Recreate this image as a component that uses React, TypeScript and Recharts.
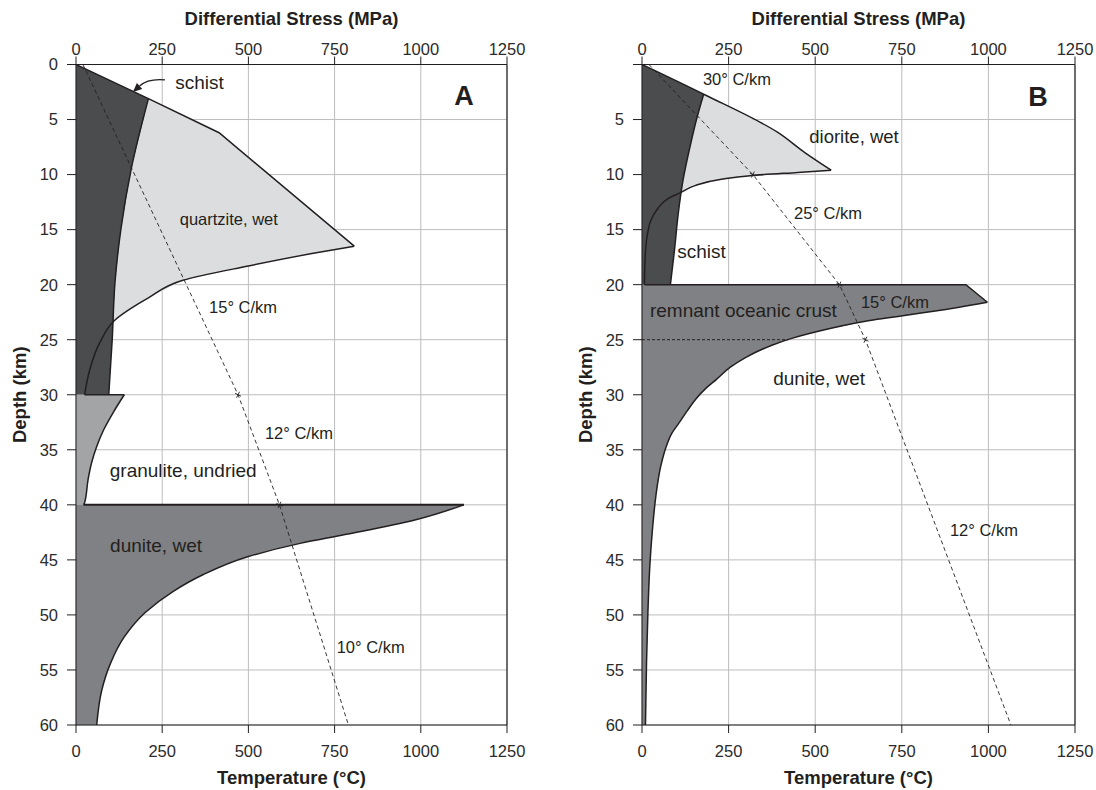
import React from 'react';
import {
  Area,
  CartesianGrid,
  ComposedChart,
  Line,
  ReferenceDot,
  ReferenceLine,
  XAxis,
  YAxis,
} from 'recharts';

// every point is [stress (MPa) or temperature (°C), depth (km)]
type XY = [number, number];
type CurveKind = 'linear' | 'monotone';

const stressTicks = [0, 250, 500, 750, 1000, 1250];
const depthTicks = [0, 5, 10, 15, 20, 25, 30, 35, 40, 45, 50, 55, 60];

// ---- panel A: continental crust over mantle ----
const brittleA: XY[] = [[0, 0], [210, 3.1], [415, 6.2], [807, 16.5]];
const quartziteBaseA: XY[] = [
  [807, 16.5], [680, 17.2], [500, 18.3], [310, 19.6], [210, 21.2],
  [110, 23.3], [70, 25.2], [40, 27.7], [25, 30],
];
const schistEdgeA: XY[] = [[210, 3.1], [160, 9.5], [130, 15], [113, 19.8], [105, 25], [95, 30]];
const granuliteEdgeA: XY[] = [
  [140, 30], [110, 31.5], [80, 33.2], [60, 34.7], [45, 36.2], [35, 37.7], [25, 39.8], [22, 40],
];
const duniteEdgeA: XY[] = [
  [1125, 40], [980, 41.4], [780, 42.7], [650, 43.5], [500, 44.7], [365, 46.4],
  [280, 47.9], [200, 49.8], [140, 52], [100, 54.4], [75, 56.8], [60, 60],
];
const geothermA: XY[] = [[20, 0], [470, 30], [590, 40], [790, 60]];
const gradientBreaksA = [30, 40];

// ---- panel B: thin crust over remnant oceanic crust ----
const brittleB: XY[] = [[0, 0], [178, 2.7], [391, 6.15], [470, 8], [546, 9.6]];
const dioriteBaseB: XY[] = [
  [546, 9.6], [450, 9.8], [312, 10.1], [233, 10.4], [153, 11], [114, 11.6],
  [74, 12.2], [45, 13.1], [25, 14.2], [17, 15.2], [10, 17], [7, 20],
];
const schistEdgeB: XY[] = [[178, 2.7], [158, 4.9], [139, 7.4], [119, 10.4], [104, 13.7], [94, 16.8], [82, 20]];
const mantleEdgeB: XY[] = [
  [935, 20], [997, 21.6], [847, 22.4], [649, 23.3], [500, 24.3], [430, 24.9],
  [375, 25.5], [300, 26.6], [255, 27.5], [215, 28.6], [185, 29.4], [155, 30.4],
  [132, 31.4], [106, 32.6], [86, 33.5], [70, 34.7], [54, 36.5], [40, 39.2],
  [30, 42.3], [23, 45.3], [17, 49.8], [13, 54.4], [10, 60],
];
const crustBaseB: XY[] = [[0, 25], [422, 25]];
const geothermB: XY[] = [[20, 0], [320, 10], [570, 20], [645, 25], [1065, 60]];
const gradientBreaksB = [10, 20, 25];

const INK = '#231f20';
const DARK = '#4b4c4e';
const LIGHT = '#dcdddf';
const MID = '#a3a4a6';
const MANTLE = '#808184';

const PLOT_TOP = 64.5;
const PLOT_BOTTOM = 725;
const AXIS_H = 30;
const YAXIS_W = 40;
const CHART_H = 790;

const rows = (pts: XY[], key = 'stress') => pts.map(([v, depth]) => ({ [key]: v, depth }));

interface Fill { pts: XY[]; fill: string; curve: CurveKind }
interface Outline { pts: XY[]; curve: CurveKind; dash?: string; width?: number }
interface Note { text: string; x: number; depth: number; size: number; bold?: boolean; center?: boolean }

interface PanelProps {
  left: number;
  width: number;
  plotLeft: number;
  plotRight: number;
  fills: Fill[];
  outlines: Outline[];
  geotherm: XY[];
  breaks: number[];
  notes: Note[];
  zeroDepthLabel: boolean;
  arrow?: [{ x: number; y: number }, { x: number; y: number }];
}

const crossDot = (breaks: number[]) => (props: any) => {
  const { cx, cy, payload, index } = props;
  if (!breaks.includes(payload?.depth)) return <g key={`d${index}`} />;
  return (
    <path
      key={`d${index}`}
      d={`M${cx - 3},${cy - 1.5}L${cx + 3},${cy + 1.5}M${cx - 1.5},${cy + 3}L${cx + 1.5},${cy - 3}`}
      stroke={INK}
      strokeWidth={0.9}
      fill="none"
    />
  );
};

const arrowShape = (props: any) => {
  const { x1, y1, x2, y2 } = props;
  const qx = x1 + 0.53 * (x2 - x1);
  const qy = y1 - 1.5;
  const dx = x2 - qx;
  const dy = y2 - qy;
  const len = Math.hypot(dx, dy) || 1;
  const ux = dx / len;
  const uy = dy / len;
  const bx = x2 - ux * 9;
  const by = y2 - uy * 9;
  return (
    <g>
      <path d={`M${x1},${y1}Q${qx},${qy} ${bx},${by}`} stroke={INK} strokeWidth={1.3} fill="none" />
      <path
        d={`M${x2},${y2}L${bx - uy * 4},${by + ux * 4}L${bx + uy * 4},${by - ux * 4}Z`}
        fill={INK}
      />
    </g>
  );
};

const Panel = (p: PanelProps) => {
  const mLeft = p.plotLeft - p.left - YAXIS_W;
  const mRight = p.left + p.width - p.plotRight;
  const midX = (p.plotLeft + p.plotRight) / 2 - p.left;
  const midY = (PLOT_TOP + PLOT_BOTTOM) / 2;
  const titleX = p.plotLeft - p.left - 57;
  const tickStyle = { fill: '#2b2b2b', fontSize: 16.5 };

  return (
    <div style={{ position: 'absolute', left: p.left, top: 0 }}>
      <ComposedChart
        layout="vertical"
        width={p.width}
        height={CHART_H}
        margin={{ top: PLOT_TOP - AXIS_H, bottom: CHART_H - PLOT_BOTTOM - AXIS_H, left: mLeft, right: mRight }}
      >
        <CartesianGrid xAxisId="stress" stroke="#bdbdbd" strokeWidth={1} />
        <XAxis
          xAxisId="stress"
          orientation="top"
          type="number"
          domain={[0, 1250]}
          ticks={stressTicks}
          interval={0}
          allowDataOverflow
          height={AXIS_H}
          tickSize={8}
          tickMargin={2}
          stroke={INK}
          tick={tickStyle}
          label={() => (
            <text x={midX} y={PLOT_TOP - 39.5} textAnchor="middle" fontSize={18.5} fontWeight="bold" fill={INK}>
              Differential Stress (MPa)
            </text>
          )}
        />
        <XAxis
          xAxisId="temp"
          orientation="bottom"
          type="number"
          domain={[0, 1250]}
          ticks={stressTicks}
          interval={0}
          allowDataOverflow
          height={AXIS_H}
          tickSize={8}
          tickMargin={12}
          stroke={INK}
          tick={tickStyle}
          label={() => (
            <text x={midX} y={PLOT_BOTTOM + 59} textAnchor="middle" fontSize={18.5} fontWeight="bold" fill={INK}>
              Temperature (°C)
            </text>
          )}
        />
        <YAxis
          type="number"
          dataKey="depth"
          domain={[0, 60]}
          ticks={depthTicks}
          interval={0}
          allowDataOverflow
          width={YAXIS_W}
          tickSize={9}
          tickMargin={9}
          stroke={INK}
          tick={tickStyle}
          tickFormatter={(v: number) => (v === 0 && !p.zeroDepthLabel ? '' : String(v))}
          label={() => (
            <text
              x={titleX}
              y={midY}
              textAnchor="middle"
              dominantBaseline="central"
              fontSize={18.5}
              fontWeight="bold"
              fill={INK}
              transform={`rotate(-90 ${titleX} ${midY})`}
            >
              Depth (km)
            </text>
          )}
        />

        {p.fills.map((f, i) => (
          <Area
            key={`fill-${i}`}
            data={rows(f.pts)}
            dataKey="stress"
            xAxisId="stress"
            type={f.curve}
            fill={f.fill}
            fillOpacity={1}
            stroke="none"
            dot={false}
            activeDot={false}
            isAnimationActive={false}
          />
        ))}

        {p.outlines.map((o, i) => (
          <Line
            key={`edge-${i}`}
            data={rows(o.pts)}
            dataKey="stress"
            xAxisId="stress"
            type={o.curve}
            stroke={INK}
            strokeWidth={o.width ?? 1.5}
            strokeDasharray={o.dash}
            dot={false}
            activeDot={false}
            isAnimationActive={false}
          />
        ))}

        <Line
          data={rows(p.geotherm, 'temp')}
          dataKey="temp"
          xAxisId="temp"
          type="linear"
          stroke={INK}
          strokeWidth={0.9}
          strokeDasharray="4 3"
          dot={crossDot(p.breaks)}
          activeDot={false}
          isAnimationActive={false}
        />

        <ReferenceLine xAxisId="stress" x={1250} stroke={INK} strokeWidth={1.2} />

        {p.arrow && (
          <ReferenceLine xAxisId="stress" segment={p.arrow} ifOverflow="visible" shape={arrowShape} />
        )}

        {p.notes.map((n, i) => (
          <ReferenceDot
            key={`note-${i}`}
            xAxisId="stress"
            x={n.x}
            y={n.depth}
            r={1}
            fill="none"
            stroke="none"
            ifOverflow="visible"
            label={{
              value: n.text,
              position: n.center ? 'center' : 'right',
              offset: 0,
              fontSize: n.size,
              fontWeight: n.bold ? 'bold' : 'normal',
              fill: INK,
            }}
          />
        ))}
      </ComposedChart>
    </div>
  );
};

const notesA: Note[] = [
  { text: 'schist', x: 285, depth: 1.65, size: 19 },
  { text: 'A', x: 1125, depth: 2.8, size: 27, bold: true, center: true },
  { text: 'quartzite, wet', x: 298, depth: 14.05, size: 16.5 },
  { text: '15° C/km', x: 383, depth: 22.0, size: 16.5 },
  { text: '12° C/km', x: 545, depth: 33.45, size: 16.5 },
  { text: 'granulite, undried', x: 95, depth: 36.9, size: 19 },
  { text: 'dunite, wet', x: 96, depth: 43.7, size: 19 },
  { text: '10° C/km', x: 753, depth: 52.9, size: 16.5 },
];

const notesB: Note[] = [
  { text: '30° C/km', x: 173, depth: 1.35, size: 16.5 },
  { text: 'B', x: 1143, depth: 2.93, size: 27, bold: true, center: true },
  { text: 'diorite, wet', x: 480, depth: 6.56, size: 18.5 },
  { text: '25° C/km', x: 436, depth: 13.5, size: 16.5 },
  { text: 'schist', x: 99, depth: 17.0, size: 19 },
  { text: '15° C/km', x: 629, depth: 21.55, size: 16.5 },
  { text: 'remnant oceanic crust', x: 20, depth: 22.3, size: 19 },
  { text: 'dunite, wet', x: 376, depth: 28.5, size: 19 },
  { text: '12° C/km', x: 886, depth: 42.3, size: 16.5 },
];

export default function App() {
  return (
    <div
      style={{
        position: 'absolute',
        left: 0,
        top: 0,
        width: 1096,
        height: 790,
        background: '#ffffff',
        fontFamily: "'Liberation Sans', Arial, sans-serif",
      }}
    >
      <Panel
        left={0}
        width={545}
        plotLeft={76}
        plotRight={507}
        zeroDepthLabel
        fills={[
          { pts: [...brittleA, ...quartziteBaseA.slice(1)], fill: LIGHT, curve: 'linear' },
          { pts: [[0, 0], ...schistEdgeA], fill: DARK, curve: 'linear' },
          { pts: granuliteEdgeA, fill: MID, curve: 'monotone' },
          { pts: duniteEdgeA, fill: MANTLE, curve: 'monotone' },
        ]}
        outlines={[
          { pts: brittleA, curve: 'linear' },
          { pts: quartziteBaseA, curve: 'monotone' },
          { pts: schistEdgeA, curve: 'monotone' },
          { pts: [[25, 30], [140, 30]], curve: 'linear' },
          { pts: granuliteEdgeA, curve: 'monotone' },
          { pts: [[22, 40], [1125, 40]], curve: 'linear', width: 2 },
          { pts: duniteEdgeA, curve: 'monotone' },
        ]}
        geotherm={geothermA}
        breaks={gradientBreaksA}
        notes={notesA}
        arrow={[{ x: 258, y: 1.4 }, { x: 165, y: 2.5 }]}
      />
      <Panel
        left={566}
        width={530}
        plotLeft={642}
        plotRight={1075}
        zeroDepthLabel={false}
        fills={[
          { pts: [...brittleB, ...dioriteBaseB.slice(1)], fill: LIGHT, curve: 'linear' },
          { pts: [[0, 0], ...schistEdgeB], fill: DARK, curve: 'linear' },
          { pts: mantleEdgeB, fill: MANTLE, curve: 'linear' },
        ]}
        outlines={[
          { pts: brittleB, curve: 'monotone' },
          { pts: dioriteBaseB, curve: 'monotone' },
          { pts: schistEdgeB, curve: 'monotone' },
          { pts: [[7, 20], [935, 20], [997, 21.6]], curve: 'linear' },
          { pts: mantleEdgeB.slice(1), curve: 'monotone' },
          { pts: crustBaseB, curve: 'linear', dash: '3 2', width: 1 },
        ]}
        geotherm={geothermB}
        breaks={gradientBreaksB}
        notes={notesB}
      />
    </div>
  );
}
